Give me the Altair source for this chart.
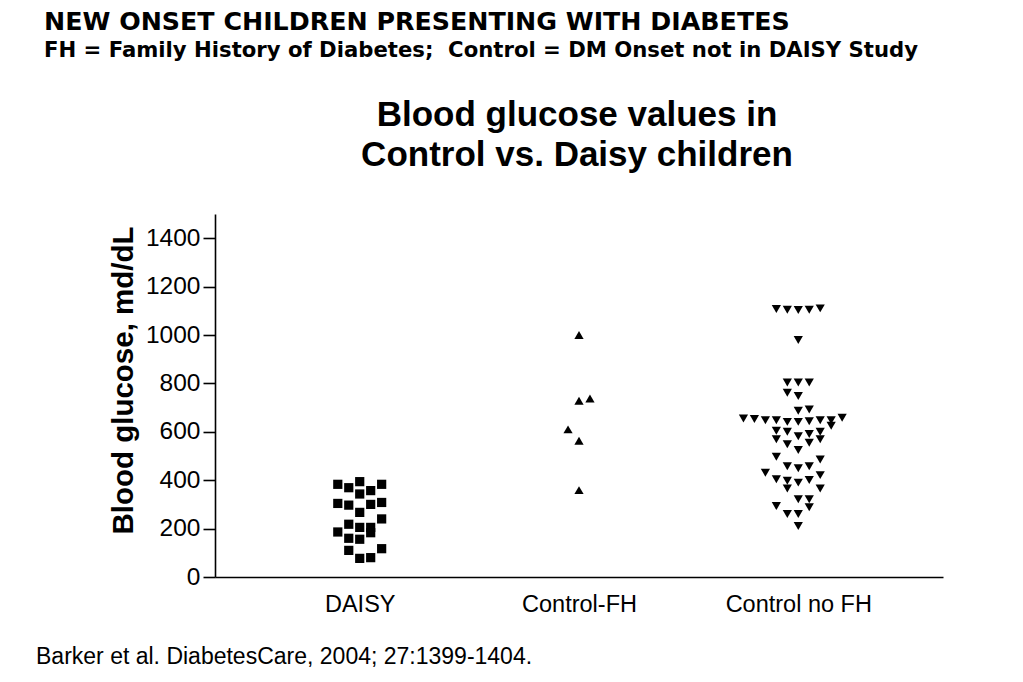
import json
import altair as alt
import pandas as pd

# ---- data ----
categories = ["DAISY", "Control-FH", "Control no FH"]

daisy_glucose = [383, 369, 394, 357, 383, 343, 304, 297, 300, 308, 267, 240,
                 218, 205, 205, 186, 183, 160, 156, 110, 117, 77, 80]
daisy_col = [-2, -1, 0, 1, 2, 0, -2, -1, 1, 2, 0, 2,
             -1, 0, 1, -2, 1, -1, 0, -1, 2, 0, 1]

fh_glucose = [1000, 728, 738, 610, 563, 359]
fh_col = [0, 0, 1, -1, 0, 0]

nofh_glucose = [1107, 1104, 1103, 1104, 1110,
                979,
                804, 804, 804,
                761, 748,
                687, 692,
                655, 653, 648, 648, 641, 641, 644, 648, 648, 658,
                625,
                604, 600, 582, 591, 600,
                569, 549, 525, 555, 569,
                497, 486,
                458, 449, 458,
                431,
                421,
                404, 398, 390, 401,
                366, 366,
                321, 321,
                293, 288,
                260, 260,
                211]
nofh_col = [-2, -1, 0, 1, 2,
            0,
            -1, 0, 1,
            -1, 0,
            0, 1,
            -5, -4, -3, -2, -1, 0, 1, 2, 3, 4,
            3,
            -2, -1, 0, 1, 2,
            -2, -1, 0, 1, 2,
            -2, 2,
            -1, 0, 1,
            -3,
            2,
            -2, -1, 0, 1,
            -1, 2,
            0, 1,
            -2, 1,
            -1, 0,
            0]

y_ticks = [0, 200, 400, 600, 800, 1000, 1200, 1400]

header1 = "NEW ONSET CHILDREN PRESENTING WITH DIABETES"
header2 = "FH = Family History of Diabetes;\u00a0 Control = DM Onset not in DAISY Study"
title_lines = ["Blood glucose values in", "Control vs. Daisy children"]
citation = "Barker et al. DiabetesCare, 2004; 27:1399-1404."
y_title = "Blood glucose, md/dL"

# ---- table ----
rows = []
for gi, (vals, cols) in enumerate([(daisy_glucose, daisy_col),
                                   (fh_glucose, fh_col),
                                   (nofh_glucose, nofh_col)]):
    for v, c in zip(vals, cols):
        rows.append({"group": categories[gi], "gi": gi + 1, "col": c, "glucose": v})
df = pd.DataFrame(rows)

FONT = "Liberation Sans"
label_expr = json.dumps(categories) + "[datum.value - 1]"

points = alt.Chart(df).transform_calculate(
    xpos="datum.gi + datum.col * 0.05"
).mark_point(filled=True, opacity=1, color="black", size=85).encode(
    x=alt.X("xpos:Q",
            scale=alt.Scale(domain=[0.34, 3.66], nice=False, zero=False),
            axis=alt.Axis(values=[1, 2, 3], labelExpr=label_expr, ticks=False,
                          grid=False, title=None, labelFontSize=23.5,
                          labelFont=FONT, labelColor="black", labelPadding=15,
                          domainColor="black", domainWidth=1.6,
                          labelFlush=False)),
    y=alt.Y("glucose:Q",
            scale=alt.Scale(domain=[0, 1500], nice=False),
            axis=alt.Axis(values=y_ticks, format="d", grid=False, tickSize=12,
                          tickColor="black", tickWidth=1.6,
                          labelFontSize=24.5, labelFont=FONT, labelColor="black",
                          labelPadding=3, domainColor="black", domainWidth=1.6,
                          title=y_title, titleFont=FONT, titleFontSize=29.5,
                          titleFontWeight="bold", titleColor="black",
                          titlePadding=7, titleY=166)),
    shape=alt.Shape("group:N",
                    scale=alt.Scale(domain=categories,
                                    range=["square", "triangle-up", "triangle-down"]),
                    legend=None),
)


def text_layer(txt, x, y, size, font, weight="normal", align="left", line_height=None):
    kw = {}
    if line_height is not None:
        kw["lineHeight"] = line_height
    return alt.Chart(pd.DataFrame({"t": [0]})).mark_text(
        text=txt, align=align, baseline="alphabetic", font=font,
        fontSize=size, fontWeight=weight, color="black", **kw
    ).encode(x=alt.value(x), y=alt.value(y))


h1 = text_layer(header1, -171, -184, 25.3, "DejaVu Sans", "bold")
h2 = text_layer(header2, -171, -157, 21.2, "DejaVu Sans", "bold")
tt = text_layer(title_lines, 362, -88, 35, FONT, "bold", align="center", line_height=40)
cit = text_layer(citation, -179, 450, 23, FONT)

chart = alt.layer(points, h1, h2, tt, cit).properties(
    width=728, height=363,
    autosize=alt.AutoSizeParams(type="none"),
    padding={"left": 207, "top": 206, "right": 60, "bottom": 95},
).configure_view(stroke=None)

chart.save("out.html", embed_options={"renderer": "svg", "actions": False})
